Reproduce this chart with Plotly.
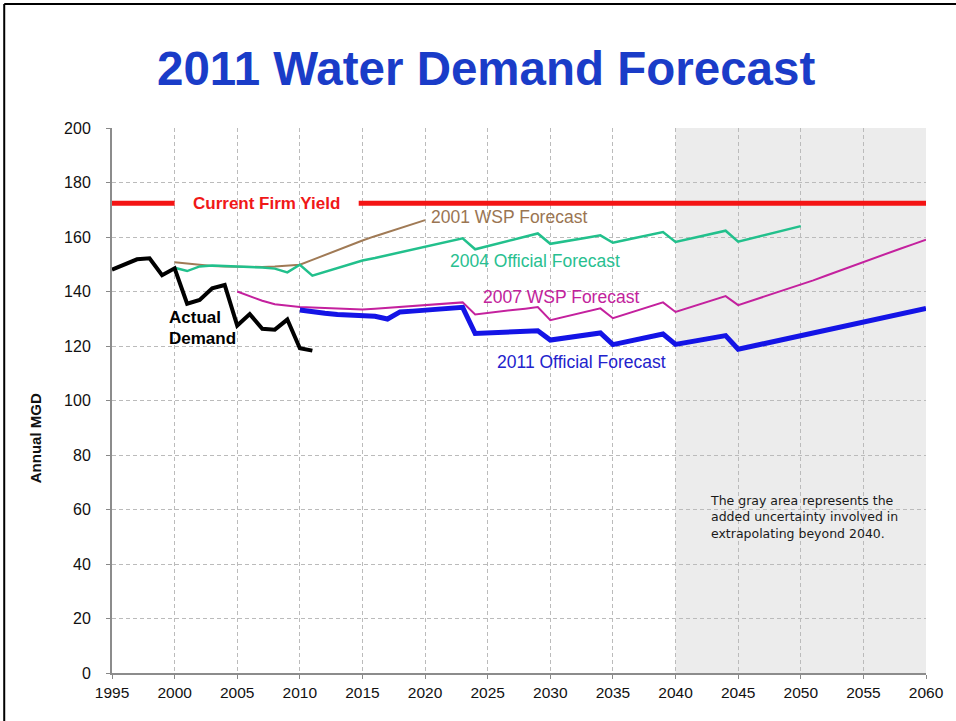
import plotly.graph_objects as go

# ---- data (MGD by year) ----
years_actual = list(range(1995, 2012))
actual_demand = [148.0, 150.0, 151.8, 152.2, 146.0, 148.5, 135.5, 136.9, 141.2,
                 142.4, 127.5, 131.7, 126.3, 126.0, 129.7, 119.2, 118.3]

years_2001 = list(range(2000, 2021))
wsp_2001 = [150.7, 150.2, 149.7, 149.4, 149.2, 149.1, 149.0, 149.0, 149.2, 149.5,
            149.8, 151.6, 153.4, 155.2, 157.0, 158.7, 160.3, 161.8, 163.3, 164.8,
            166.2]

years_2004 = list(range(2000, 2051))
official_2004 = [148.7, 147.5, 149.2, 149.5, 149.4, 149.1, 149.0, 148.8, 148.4, 147.0,
                 149.8, 145.8, 147.2, 148.5, 149.9, 151.4, 152.3, 153.3, 154.3, 155.3,
                 156.3, 157.3, 158.4, 159.5, 155.5, 156.7, 157.8, 158.9, 160.1, 161.3,
                 157.5, 158.2, 159.0, 159.8, 160.6, 157.9, 158.9, 159.9, 160.9, 161.8,
                 158.2, 159.2, 160.2, 161.2, 162.3, 158.3, 159.4, 160.5, 161.7, 162.8,
                 164.0]

years_2007 = list(range(2005, 2061))
wsp_2007 = [140.0, 138.2, 136.6, 135.3, 134.7, 134.3, 134.1, 133.9, 133.7, 133.5,
            133.4, 133.7, 134.0, 134.3, 134.6, 135.0, 135.3, 135.7, 136.0, 131.6,
            132.2, 132.7, 133.2, 133.7, 134.3, 129.5, 130.6, 131.7, 132.8, 133.8,
            130.2, 131.6, 133.0, 134.5, 136.0, 132.5, 133.9, 135.3, 136.8, 138.3,
            135.0, 136.5, 138.0, 139.5, 141.0, 142.4, 144.1, 145.8, 147.5, 149.2,
            150.9, 152.5, 154.1, 155.8, 157.4, 159.0]

years_2011 = list(range(2010, 2061))
official_2011 = [133.2, 132.5, 132.0, 131.6, 131.4, 131.3, 130.9, 129.9, 132.5, 132.8,
                 133.2, 133.5, 133.8, 134.2, 124.6, 124.8, 125.0, 125.2, 125.4, 125.6,
                 122.2, 122.9, 123.6, 124.2, 124.8, 120.5, 121.5, 122.5, 123.5, 124.4,
                 120.6, 121.4, 122.2, 123.0, 123.8, 118.8, 119.8, 120.8, 121.8, 122.8,
                 123.7, 124.7, 125.7, 126.8, 127.9, 128.9, 129.9, 130.9, 131.9, 132.9,
                 133.8]

firm_yield = 172.4
firm_yield_years = [1995, 2000, None, 2014.7, 2060]

uncertain_start, uncertain_end = 2040, 2060
x_ticks = list(range(1995, 2061, 5))
y_ticks = list(range(0, 201, 20))

ARIAL = "Liberation Sans, Arial, sans-serif"

fig = go.Figure()

# shaded extrapolation zone
fig.add_shape(type="rect", xref="x", yref="y", x0=uncertain_start, x1=uncertain_end,
              y0=0, y1=200, fillcolor="#ECECEC", line_width=0, layer="below")

fig.add_trace(go.Scatter(x=firm_yield_years, y=[firm_yield] * len(firm_yield_years),
                         mode="lines", line=dict(color="#F41414", width=5),
                         connectgaps=False, hoverinfo="skip"))
fig.add_trace(go.Scatter(x=years_2001, y=wsp_2001, mode="lines",
                         line=dict(color="#A07A55", width=2)))
fig.add_trace(go.Scatter(x=years_2004, y=official_2004, mode="lines",
                         line=dict(color="#22C08C", width=2.5)))
fig.add_trace(go.Scatter(x=years_2007, y=wsp_2007, mode="lines",
                         line=dict(color="#C4219E", width=2)))
fig.add_trace(go.Scatter(x=years_2011, y=official_2011, mode="lines",
                         line=dict(color="#1414E6", width=5)))
fig.add_trace(go.Scatter(x=years_actual, y=actual_demand, mode="lines",
                         line=dict(color="#000000", width=4)))

def label(text, x, y, color, size=17.5, bold=False, **kw):
    if bold:
        text = "<b>" + text + "</b>"
    fig.add_annotation(text=text, x=x, y=y, xref="x", yref="y", xanchor="left",
                       yanchor="middle", showarrow=False,
                       font=dict(family=ARIAL, size=size, color=color), **kw)

label("Current Firm Yield", 2001.3, 172.2, "#F01818", size=17, bold=True)
label("2001 WSP Forecast", 2020.3, 167.3, "#9A7552")
label("2004 Official Forecast", 2021.8, 151.2, "#28C090")
label("2007 WSP Forecast", 2024.5, 137.8, "#C2239C")
label("2011 Official Forecast", 2025.6, 114.2, "#2222CC")
label("Actual", 1999.4, 130.3, "#000000", size=17, bold=True)
label("Demand", 1999.4, 122.9, "#000000", size=17, bold=True)

fig.add_annotation(text="The gray area represents the<br>added uncertainty involved in"
                        "<br>extrapolating beyond 2040.",
                   x=2042.6, y=57.2, xref="x", yref="y", xanchor="left", yanchor="middle",
                   align="left", showarrow=False,
                   font=dict(family="DejaVu Sans, sans-serif", size=12.5, color="#1A1A1A"))

# title
fig.add_annotation(text="<b>2011 Water Demand Forecast</b>", xref="paper", yref="paper",
                   x=0.4596, y=1.110, xanchor="center", yanchor="middle", showarrow=False,
                   font=dict(family=ARIAL, size=47.5, color="#1A3CC8"))

# y-axis title
fig.add_annotation(text="<b>Annual MGD</b>", xref="paper", yref="paper",
                   x=-0.0944, y=0.431, xanchor="center", yanchor="middle",
                   textangle=-90, showarrow=False,
                   font=dict(family=ARIAL, size=15, color="#111111"))

# slide frame
fig.add_shape(type="line", xref="paper", yref="paper", x0=-0.1324, x1=1.04,
              y0=1.2275, y1=1.2275, line=dict(color="#000000", width=2))
fig.add_shape(type="line", xref="paper", yref="paper", x0=-0.1324, x1=-0.1324,
              y0=1.2275, y1=-0.1, line=dict(color="#000000", width=2))

grid = dict(showgrid=True, gridcolor="#BBBBBB", gridwidth=1, griddash="4px,3px")

fig.update_xaxes(range=[1995, 2060], tickvals=x_ticks, ticks="outside", ticklen=4,
                 tickcolor="#888888", showline=True, linecolor="#8C8C8C", linewidth=2,
                 tickfont=dict(family=ARIAL, size=15.5, color="#111111"),
                 zeroline=False, **grid)
fig.update_yaxes(range=[0, 200], tickvals=y_ticks, ticks="outside", ticklen=4,
                 tickcolor="#888888", showline=True, linecolor="#8C8C8C", linewidth=2,
                 tickfont=dict(family=ARIAL, size=16, color="#111111"),
                 ticklabelstandoff=12, zeroline=False, **grid)

fig.update_layout(width=956, height=721, margin=dict(l=112, r=28, t=128, b=48),
                  paper_bgcolor="#FFFFFF", plot_bgcolor="#FFFFFF", showlegend=False)

fig.write_html("out.html")
